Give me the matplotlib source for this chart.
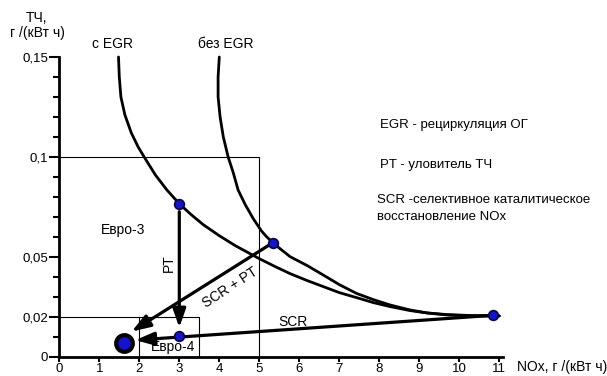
import matplotlib
matplotlib.use('Agg')
import matplotlib.pyplot as plt
from matplotlib.ticker import FixedLocator

plt.rcParams['font.family'] = ['Liberation Sans', 'DejaVu Sans']

# кривые NOx / ТЧ (с EGR и без EGR)
nox_egr = [1.48, 1.50, 1.54, 1.64, 1.80, 1.97, 2.12, 2.40, 2.69, 3.0, 3.3, 3.6, 4.0, 4.4, 5.0, 5.4,
           5.77, 6.2, 6.6, 7.0, 7.43, 7.85, 8.27, 8.77, 9.2, 9.69, 10.3, 11.0]
pm_egr = [0.15, 0.14, 0.13, 0.121, 0.112, 0.105, 0.1, 0.091, 0.0834, 0.0765, 0.071, 0.066, 0.0605, 0.0555,
          0.049, 0.045, 0.0415, 0.038, 0.035, 0.032, 0.0295, 0.027, 0.025, 0.023, 0.0218, 0.021, 0.0205, 0.0203]
nox_noegr = [4.0, 3.97, 3.97, 4.02, 4.1, 4.22, 4.35, 4.47, 4.65, 4.85, 5.05, 5.18, 5.34, 5.55, 5.77,
             6.2, 6.6, 7.0, 7.43, 7.85, 8.27, 8.77, 9.2, 9.69, 10.3, 11.0]
pm_noegr = [0.15, 0.14, 0.13, 0.12, 0.11, 0.1, 0.092, 0.0834, 0.076, 0.069, 0.063, 0.06, 0.057, 0.0535, 0.05,
            0.0455, 0.0408, 0.036, 0.0316, 0.0285, 0.0258, 0.0233, 0.0218, 0.0208, 0.0204, 0.0203]

# точки
pt_nox = [3.0, 5.34, 10.83, 3.0]
pt_pm = [0.0765, 0.057, 0.0208, 0.0102]
final_nox, final_pm = 1.62, 0.0068

# стрелки: (начало, конец)
arrows = [((3.0, 0.0725), (3.0, 0.0145)),     # PT
          ((5.34, 0.057), (1.81, 0.0125)),    # SCR + PT
          ((10.83, 0.0206), (1.9, 0.0082))]   # SCR

# нормы Евро-3 / Евро-4
euro3 = (5, 0.1)
euro4 = (3.5, 0.02)
euro4_split = 2

yticks_major = [0, 0.02, 0.05, 0.1, 0.15]
ytick_labels = ['0', '0,02', '0,05', '0,1', '0,15']
yticks_minor = [0.01, 0.03, 0.04, 0.06, 0.07, 0.08, 0.09, 0.11, 0.12, 0.13, 0.14]
xticks = list(range(0, 12))

fig = plt.figure(figsize=(6.07, 3.76), dpi=100)
ax = fig.add_axes([59.3 / 607, 19.5 / 376, 443.4 / 607, 299.5 / 376])
ax.set_xlim(0, 11.085)
ax.set_ylim(0, 0.15)

for s in ('top', 'right'):
    ax.spines[s].set_visible(False)
for s in ('left', 'bottom'):
    ax.spines[s].set_linewidth(2.0)

ax.set_xticks(xticks)
ax.set_xticklabels([str(v) for v in xticks])
ax.set_yticks(yticks_major)
ax.set_yticklabels(ytick_labels)
ax.yaxis.set_minor_locator(FixedLocator(yticks_minor))
ax.tick_params(axis='y', which='major', length=7, width=1.5, pad=1, labelsize=9.5)
ax.tick_params(axis='y', which='minor', length=4.5, width=1.5)
ax.tick_params(axis='x', which='major', length=3.5, width=1.5, pad=1, labelsize=9.5)

# рамки норм
ax.plot([0, euro3[0], euro3[0]], [euro3[1], euro3[1], 0], color='k', lw=0.8)
ax.plot([0, euro4[0], euro4[0]], [euro4[1], euro4[1], 0], color='k', lw=0.8)
ax.plot([euro4_split, euro4_split], [0, euro4[1]], color='k', lw=0.8)

ax.plot(nox_egr, pm_egr, color='k', lw=2.0, solid_capstyle='round', solid_joinstyle='round', clip_on=False)
ax.plot(nox_noegr, pm_noegr, color='k', lw=2.0, solid_capstyle='round', solid_joinstyle='round', clip_on=False)

for (x0, y0), (x1, y1) in arrows:
    ax.annotate('', xy=(x1, y1), xytext=(x0, y0),
                arrowprops=dict(arrowstyle='-|>,head_length=0.8,head_width=0.28', color='k', lw=2.3,
                                mutation_scale=14, shrinkA=0, shrinkB=0))

ax.plot(pt_nox, pt_pm, 'o', ms=7, mfc='#1414d0', mec='#08083a', mew=1.2, zorder=5, clip_on=False)
ax.plot([final_nox], [final_pm], 'o', ms=12, mfc='#1414d0', mec='k', mew=3, zorder=6)

ax.text(1.6, 0.0633, 'Евро-3', fontsize=10, ha='center', va='center')
ax.text(2.85, 0.0049, 'Евро-4', fontsize=10, ha='center', va='center')
ax.text(2.73, 0.0467, 'PT', fontsize=10, ha='center', va='center', rotation=90)
ax.text(4.27, 0.0345, 'SCR + PT', fontsize=10, ha='center', va='center', rotation=33)
ax.text(5.83, 0.0175, 'SCR', fontsize=10, ha='center', va='center')
ax.text(1.34, 0.1565, 'с EGR', fontsize=10, ha='center', va='center', clip_on=False)
ax.text(4.16, 0.1565, 'без EGR', fontsize=10, ha='center', va='center', clip_on=False)

# подписи осей и пояснения
fig.text(37 / 607, 1 - 18 / 376, 'ТЧ,', fontsize=10, ha='center', va='center')
fig.text(37 / 607, 1 - 33 / 376, 'г /(кВт ч)', fontsize=10, ha='center', va='center')
fig.text(517 / 607, 1 - 366.5 / 376, 'NOx, г /(кВт ч)', fontsize=10, ha='left', va='center')
fig.text(380 / 607, 1 - 125 / 376, 'EGR - рециркуляция ОГ', fontsize=9.5, ha='left', va='center')
fig.text(380 / 607, 1 - 165 / 376, 'PT - уловитель ТЧ', fontsize=9.5, ha='left', va='center')
fig.text(377 / 607, 1 - 200 / 376, 'SCR -селективное каталитическое', fontsize=9.5, ha='left', va='center')
fig.text(377 / 607, 1 - 217 / 376, 'восстановление NOx', fontsize=9.5, ha='left', va='center')

fig.savefig('out.png', dpi=100)
